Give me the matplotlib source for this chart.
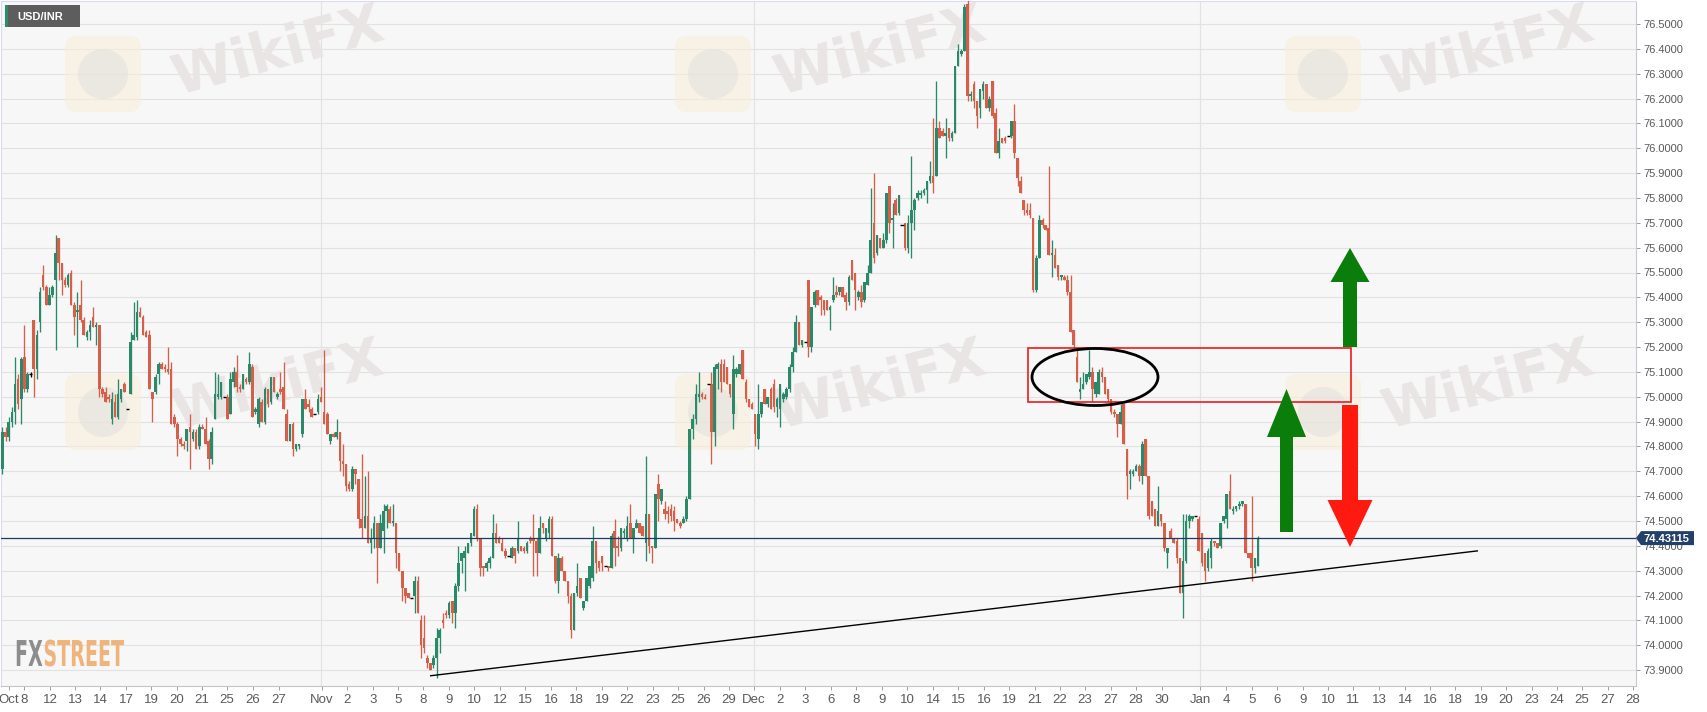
import numpy as np
import matplotlib
matplotlib.use("Agg")
import matplotlib.pyplot as plt
from matplotlib.patches import Rectangle, Ellipse, Polygon, FancyBboxPatch, Circle, PathPatch
from matplotlib.textpath import TextPath
from matplotlib.font_manager import FontProperties
import matplotlib.transforms as mtransforms

plt.rcParams['font.family'] = ['Liberation Sans', 'DejaVu Sans']

# ---------------- data ----------------
symbol = "USD/INR"
last_price = 74.43115

opens = [
    74.71, 74.86, 74.84, 74.90, 74.94, 75.07, 74.99, 75.16, 75.03, 75.09,
    75.31, 75.11, 75.30, 75.49, 75.44, 75.37, 75.41, 75.47, 75.64, 75.54,
    75.47, 75.45, 75.50, 75.37, 75.34, 75.37, 75.31, 75.24, 75.26, 75.32,
    75.28, 75.29, 75.03, 75.02, 75.00, 74.91, 74.98, 74.92, 74.99, 75.05,
    74.95, 75.01, 75.23, 75.24, 75.34, 75.32, 75.26, 75.25, 75.02, 75.02,
    75.09, 75.13, 75.12, 75.11, 75.11, 74.92, 74.89, 74.83, 74.81, 74.82,
    74.88, 74.83, 74.86, 74.80, 74.88, 74.87, 74.82, 74.75, 74.91, 75.00,
    75.00, 75.00, 75.00, 74.93, 75.06, 75.10, 75.04, 75.03, 75.07, 75.06,
    75.12, 74.94, 74.89, 74.98, 74.90, 75.03, 74.98, 75.08, 75.00, 75.03,
    75.04, 74.93, 74.82, 74.89, 74.79, 74.80, 74.85, 74.99, 74.97, 74.95,
    74.93, 74.94, 75.00, 74.94, 74.93, 74.82, 74.85, 74.84, 74.86, 74.74,
    74.73,
    74.65, 74.63, 74.71, 74.67, 74.51, 74.47, 74.52, 74.41, 74.43, 74.49,
    74.39, 74.46, 74.54, 74.55, 74.49,
    74.49, 74.37, 74.30, 74.23, 74.21, 74.19, 74.20, 74.26, 74.10, 74.03,
    73.95, 73.93, 73.92, 73.95, 74.03, 74.10, 74.13, 74.12, 74.18, 74.13,
    74.24, 74.34, 74.35, 74.37, 74.41, 74.44, 74.55, 74.43, 74.32, 74.31,
    74.33, 74.35, 74.45, 74.43, 74.41, 74.38, 74.36, 74.35, 74.39, 74.38,
    74.40, 74.39, 74.38, 74.43, 74.43, 74.42, 74.37, 74.49, 74.43, 74.45,
    74.51, 74.36, 74.26, 74.35, 74.30, 74.26, 74.20, 74.06, 74.21, 74.27,
    74.15, 74.18, 74.24, 74.27, 74.42, 74.34, 74.36, 74.32, 74.32, 74.31,
    74.46, 74.40, 74.39, 74.45, 74.43, 74.49, 74.43, 74.47, 74.49, 74.48,
    74.41, 74.53, 74.40, 74.39, 74.65, 74.58, 74.55, 74.54, 74.55, 74.54,
    74.51, 74.49, 74.49, 74.51, 74.59, 74.87, 74.91, 75.00, 75.01, 75.00,
    75.05, 75.05, 74.86, 75.11, 75.13, 75.13, 75.12, 75.05, 74.93, 75.09,
    75.09, 75.19, 75.06, 74.99, 74.97, 74.93, 74.83, 74.93, 75.03, 74.97,
    75.03, 75.05, 74.96, 74.95, 74.99, 75.00, 75.03,
    75.12, 75.18, 75.30, 75.21, 75.22, 75.47, 75.20, 75.37, 75.43, 75.40,
    75.39, 75.39, 75.35, 75.39, 75.42, 75.42, 75.44, 75.41, 75.38, 75.55,
    75.50, 75.40, 75.42, 75.39, 75.45, 75.50, 75.70, 75.58, 75.64, 75.60,
    75.63, 75.85, 75.71, 75.79, 75.74, 75.69, 75.70, 75.60, 75.70, 75.75,
    75.80, 75.81, 75.82, 75.83, 75.87, 75.89, 75.89, 76.08, 76.07, 76.05,
    76.08, 76.04, 76.06, 76.33, 76.38, 76.39, 76.58, 76.21, 76.26, 76.19,
    76.16, 76.23, 76.26, 76.16, 76.27, 76.14, 75.98, 76.04, 76.04, 76.05,
    76.05, 76.11, 75.96, 75.87, 75.79, 75.75, 75.75, 75.72, 75.43, 75.56,
    75.71, 75.69, 75.68, 75.57, 75.57, 75.53, 75.48, 75.48, 75.47, 75.42, 75.27,
    75.16, 75.02, 75.03, 75.06, 75.08, 75.10, 75.01, 75.01, 75.10, 75.08,
    75.03, 74.99, 74.94, 74.93, 74.89, 74.97, 74.79, 74.69, 74.69, 74.70,
    74.72, 74.68, 74.83, 74.68, 74.58, 74.55, 74.48, 74.53, 74.49, 74.37,
    74.46, 74.43, 74.42, 74.35, 74.21, 74.34, 74.50, 74.51, 74.52, 74.51,
    74.45, 74.37, 74.31, 74.35, 74.42, 74.41, 74.40, 74.50, 74.51, 74.62,
    74.54, 74.55, 74.56, 74.57, 74.57, 74.37, 74.37, 74.31, 74.32,
]

highs = [
    74.88, 74.88, 74.92, 74.96, 75.16, 75.09, 75.16, 75.29, 75.10, 75.10,
    75.31, 75.27, 75.44, 75.53, 75.45, 75.44, 75.45, 75.65, 75.64, 75.54,
    75.48, 75.50, 75.51, 75.38, 75.42, 75.47, 75.32, 75.27, 75.31, 75.36,
    75.30, 75.29, 75.04, 75.04, 75.01, 75.02, 75.01, 75.07, 75.03, 75.06,
    74.95, 75.26, 75.38, 75.39, 75.36, 75.33, 75.27, 75.27, 75.02, 75.09,
    75.14, 75.14, 75.13, 75.20, 75.14, 74.93, 74.90, 74.84, 74.82, 74.87,
    74.93, 74.87, 74.87, 74.89, 74.89, 74.92, 74.83, 74.88, 75.10, 75.09,
    75.06, 75.00, 75.01, 75.10, 75.12, 75.17, 75.05, 75.09, 75.08, 75.18,
    75.13, 74.96, 75.00, 74.99, 75.04, 75.03, 75.08, 75.08, 75.02, 75.10,
    75.14, 74.95, 74.89, 74.90, 74.81, 74.81, 74.99, 75.03, 74.99, 74.96,
    74.93, 75.01, 75.04, 75.19, 74.94, 74.85, 74.86, 74.91, 74.86, 74.81,
    74.73,
    74.66, 74.72, 74.71, 74.67, 74.77, 74.68, 74.70, 74.47, 74.52, 74.49,
    74.53, 74.57, 74.57, 74.56, 74.57,
    74.49, 74.37, 74.30, 74.23, 74.21, 74.19, 74.28, 74.28, 74.12, 74.12,
    73.96, 73.93, 73.96, 74.07, 74.07, 74.13, 74.14, 74.18, 74.18, 74.25,
    74.40, 74.37, 74.40, 74.41, 74.45, 74.56, 74.57, 74.43, 74.32, 74.34,
    74.36, 74.53, 74.49, 74.44, 74.43, 74.39, 74.36, 74.40, 74.39, 74.50,
    74.40, 74.40, 74.42, 74.44, 74.53, 74.43, 74.52, 74.49, 74.47, 74.52,
    74.52, 74.36, 74.37, 74.36, 74.30, 74.26, 74.21, 74.21, 74.33, 74.27,
    74.18, 74.27, 74.32, 74.48, 74.42, 74.34, 74.36, 74.32, 74.32, 74.45,
    74.51, 74.44, 74.47, 74.47, 74.52, 74.57, 74.47, 74.51, 74.49, 74.48,
    74.76, 74.53, 74.40, 74.61, 74.69, 74.63, 74.58, 74.56, 74.57, 74.56,
    74.51, 74.50, 74.52, 74.60, 74.87, 74.93, 75.05, 75.10, 75.02, 75.01,
    75.05, 75.10, 75.13, 75.14, 75.15, 75.15, 75.12, 75.05, 75.17, 75.12,
    75.13, 75.19, 75.07, 74.99, 74.98, 74.93, 75.05, 74.98, 75.03, 75.00,
    75.04, 75.07, 75.00, 75.05, 75.02, 75.04, 75.13,
    75.20, 75.33, 75.30, 75.23, 75.22, 75.47, 75.36, 75.43, 75.43, 75.41,
    75.39, 75.39, 75.37, 75.48, 75.45, 75.44, 75.44, 75.42, 75.49, 75.55,
    75.50, 75.43, 75.45, 75.46, 75.53, 75.84, 75.90, 75.65, 75.64, 75.66,
    75.82, 75.85, 75.78, 75.80, 75.81, 75.69, 75.70, 75.73, 75.97, 75.80,
    75.83, 75.83, 75.84, 75.87, 75.95, 76.12, 76.27, 76.11, 76.08, 76.12,
    76.08, 76.07, 76.33, 76.42, 76.40, 76.58, 76.60, 76.23, 76.27, 76.19,
    76.24, 76.27, 76.26, 76.21, 76.27, 76.16, 76.08, 76.04, 76.05, 76.05,
    76.11, 76.18, 75.96, 75.89, 75.79, 75.78, 75.78, 75.72, 75.57, 75.73,
    75.72, 75.69, 75.93, 75.63, 75.60, 75.53, 75.49, 75.49, 75.49, 75.49, 75.27,
    75.19, 75.08, 75.10, 75.09, 75.19, 75.12, 75.06, 75.11, 75.12, 75.08,
    75.03, 74.99, 74.95, 74.93, 74.97, 74.97, 74.79, 74.71, 74.71, 74.73,
    74.73, 74.82, 74.83, 74.68, 74.58, 74.55, 74.64, 74.53, 74.49, 74.39,
    74.47, 74.43, 74.43, 74.35, 74.53, 74.53, 74.53, 74.52, 74.52, 74.52,
    74.45, 74.37, 74.39, 74.43, 74.42, 74.41, 74.49, 74.52, 74.61, 74.69,
    74.56, 74.56, 74.58, 74.58, 74.57, 74.37, 74.60, 74.35, 74.44,
]

lows = [
    74.69, 74.82, 74.82, 74.88, 74.89, 74.95, 74.89, 75.02, 75.02, 75.08,
    75.00, 75.07, 75.26, 75.43, 75.37, 75.37, 75.40, 75.19, 75.47, 75.41,
    75.44, 75.44, 75.37, 75.25, 75.20, 75.30, 75.25, 75.23, 75.23, 75.28,
    75.21, 75.00, 75.00, 74.98, 74.98, 74.89, 74.92, 74.91, 74.98, 75.02,
    74.95, 75.01, 75.23, 75.23, 75.32, 75.25, 75.24, 75.03, 74.90, 75.01,
    75.05, 75.11, 75.10, 75.09, 74.89, 74.88, 74.76, 74.80, 74.79, 74.78,
    74.71, 74.82, 74.79, 74.79, 74.87, 74.81, 74.71, 74.73, 74.91, 74.99,
    74.99, 75.00, 74.91, 74.93, 75.04, 75.02, 75.02, 75.03, 75.05, 75.05,
    74.92, 74.93, 74.88, 74.90, 74.89, 74.96, 74.97, 75.02, 74.99, 75.01,
    74.95, 74.82, 74.82, 74.76, 74.78, 74.79, 74.84, 74.95, 74.94, 74.92,
    74.93, 74.93, 74.98, 74.89, 74.85, 74.81, 74.84, 74.83, 74.70, 74.68,
    74.62,
    74.62, 74.62, 74.65, 74.47, 74.43, 74.47, 74.41, 74.37, 74.39, 74.25,
    74.39, 74.37, 74.47, 74.49, 74.48,
    74.31, 74.30, 74.18, 74.17, 74.19, 74.19, 74.13, 74.13, 73.95, 73.97,
    73.91, 73.90, 73.91, 73.87, 73.97, 74.07, 74.11, 74.11, 74.09, 74.07,
    74.22, 74.29, 74.22, 74.37, 74.40, 74.44, 74.42, 74.28, 74.28, 74.30,
    74.31, 74.35, 74.41, 74.41, 74.38, 74.35, 74.36, 74.35, 74.33, 74.37,
    74.38, 74.37, 74.37, 74.41, 74.28, 74.28, 74.37, 74.45, 74.42, 74.43,
    74.36, 74.25, 74.21, 74.30, 74.26, 74.17, 74.03, 74.06, 74.20, 74.19,
    74.14, 74.18, 74.23, 74.26, 74.29, 74.30, 74.30, 74.32, 74.30, 74.31,
    74.32, 74.36, 74.38, 74.43, 74.42, 74.43, 74.37, 74.47, 74.45, 74.44,
    74.34, 74.37, 74.33, 74.39, 74.50, 74.57, 74.51, 74.49, 74.50, 74.46,
    74.49, 74.47, 74.49, 74.50, 74.59, 74.83, 74.89, 74.98, 74.99, 74.99,
    75.05, 74.73, 74.80, 75.03, 75.02, 75.06, 75.05, 75.00, 74.87, 75.08,
    75.09, 75.07, 74.98, 74.96, 74.95, 74.80, 74.79, 74.92, 74.97, 74.96,
    74.95, 74.94, 74.92, 74.88, 74.98, 74.99, 75.02,
    75.10, 75.18, 75.21, 75.20, 75.22, 75.16, 75.18, 75.36, 75.37, 75.33,
    75.33, 75.35, 75.27, 75.38, 75.40, 75.41, 75.40, 75.35, 75.37, 75.47,
    75.35, 75.39, 75.36, 75.38, 75.45, 75.50, 75.54, 75.57, 75.60, 75.60,
    75.62, 75.66, 75.60, 75.73, 75.73, 75.69, 75.59, 75.58, 75.56, 75.67,
    75.79, 75.80, 75.81, 75.78, 75.86, 75.82, 75.89, 76.04, 76.05, 75.96,
    76.03, 76.03, 76.06, 76.33, 76.37, 76.39, 76.19, 76.19, 76.16, 76.08,
    76.12, 76.20, 76.16, 76.15, 76.12, 75.98, 75.96, 76.02, 76.02, 76.05,
    76.04, 75.96, 75.85, 75.82, 75.73, 75.73, 75.72, 75.42, 75.42, 75.56,
    75.68, 75.67, 75.57, 75.48, 75.52, 75.47, 75.47, 75.47, 75.41, 75.26, 75.19,
    75.06, 74.99, 75.03, 75.05, 75.07, 74.98, 75.00, 75.01, 75.06, 75.01,
    74.98, 74.93, 74.92, 74.84, 74.89, 74.81, 74.59, 74.63, 74.68, 74.70,
    74.66, 74.65, 74.68, 74.51, 74.52, 74.48, 74.48, 74.48, 74.38, 74.31,
    74.43, 74.41, 74.33, 74.21, 74.11, 74.33, 74.47, 74.50, 74.52, 74.38,
    74.32, 74.26, 74.30, 74.31, 74.40, 74.39, 74.39, 74.49, 74.47, 74.55,
    74.53, 74.54, 74.55, 74.56, 74.37, 74.35, 74.26, 74.29, 74.32,
]

closes = [
    74.86, 74.84, 74.90, 74.94, 75.05, 74.97, 75.15, 75.03, 75.09, 75.09,
    75.11, 75.25, 75.42, 75.44, 75.37, 75.41, 75.44, 75.58, 75.54, 75.47,
    75.45, 75.49, 75.37, 75.32, 75.35, 75.31, 75.25, 75.26, 75.29, 75.28,
    75.29, 75.03, 75.01, 74.98, 74.99, 74.99, 74.92, 75.01, 75.03, 75.02,
    74.95, 75.22, 75.25, 75.34, 75.32, 75.25, 75.24, 75.03, 74.99, 75.08,
    75.13, 75.11, 75.11, 75.10, 74.89, 74.89, 74.83, 74.81, 74.80, 74.87,
    74.86, 74.86, 74.79, 74.88, 74.87, 74.81, 74.75, 74.86, 75.01, 75.01,
    75.06, 75.00, 74.91, 75.07, 75.10, 75.04, 75.03, 75.09, 75.06, 75.13,
    74.92, 74.95, 74.99, 74.90, 75.03, 74.97, 75.08, 75.02, 75.01, 75.02,
    74.95, 74.82, 74.89, 74.79, 74.81, 74.81, 74.99, 74.95, 74.96, 74.92,
    74.93, 74.99, 74.98, 74.89, 74.85, 74.85, 74.84, 74.86, 74.74, 74.73,
    74.64,
    74.63, 74.71, 74.69, 74.51, 74.47, 74.52, 74.41, 74.43, 74.49, 74.39,
    74.49, 74.54, 74.56, 74.49, 74.50,
    74.37, 74.30, 74.23, 74.20, 74.19, 74.19, 74.26, 74.13, 74.00, 73.99,
    73.93, 73.90, 73.95, 74.03, 74.06, 74.09, 74.12, 74.17, 74.13, 74.24,
    74.33, 74.37, 74.38, 74.41, 74.45, 74.55, 74.43, 74.31, 74.31, 74.33,
    74.35, 74.45, 74.41, 74.41, 74.38, 74.36, 74.36, 74.39, 74.36, 74.43,
    74.38, 74.38, 74.41, 74.42, 74.42, 74.37, 74.47, 74.47, 74.47, 74.51,
    74.36, 74.26, 74.35, 74.30, 74.26, 74.20, 74.06, 74.21, 74.24, 74.19,
    74.18, 74.27, 74.32, 74.42, 74.33, 74.31, 74.33, 74.32, 74.31, 74.44,
    74.39, 74.39, 74.47, 74.46, 74.48, 74.43, 74.47, 74.49, 74.45, 74.44,
    74.53, 74.40, 74.39, 74.61, 74.59, 74.63, 74.53, 74.53, 74.52, 74.50,
    74.49, 74.48, 74.51, 74.59, 74.87, 74.91, 75.01, 75.01, 75.00, 74.99,
    75.05, 74.86, 75.12, 75.13, 75.06, 75.06, 75.05, 75.01, 75.11, 75.11,
    75.13, 75.07, 74.99, 74.96, 74.95, 74.85, 74.93, 74.98, 74.97, 75.00,
    74.95, 74.96, 74.99, 75.05, 75.01, 75.03, 75.12,
    75.18, 75.30, 75.21, 75.23, 75.22, 75.20, 75.36, 75.42, 75.37, 75.39,
    75.35, 75.35, 75.36, 75.41, 75.41, 75.44, 75.40, 75.38, 75.48, 75.47,
    75.43, 75.42, 75.38, 75.46, 75.50, 75.63, 75.56, 75.65, 75.60, 75.63,
    75.82, 75.70, 75.72, 75.73, 75.81, 75.69, 75.60, 75.70, 75.75, 75.79,
    75.82, 75.82, 75.83, 75.87, 75.89, 75.86, 76.08, 76.04, 76.05, 76.06,
    76.04, 76.06, 76.33, 76.39, 76.39, 76.57, 76.21, 76.22, 76.19, 76.13,
    76.24, 76.26, 76.16, 76.20, 76.13, 75.98, 76.03, 76.02, 76.03, 76.05,
    76.11, 75.98, 75.88, 75.82, 75.75, 75.74, 75.73, 75.43, 75.56, 75.71,
    75.69, 75.67, 75.57, 75.58, 75.52, 75.48, 75.49, 75.47, 75.42, 75.26, 75.21,
    75.06, 75.03, 75.05, 75.09, 75.10, 75.03, 75.06, 75.10, 75.08, 75.01,
    74.99, 74.94, 74.93, 74.89, 74.94, 74.81, 74.68, 74.70, 74.70, 74.72,
    74.68, 74.81, 74.68, 74.52, 74.52, 74.48, 74.54, 74.50, 74.39, 74.39,
    74.43, 74.41, 74.35, 74.21, 74.34, 74.50, 74.52, 74.52, 74.52, 74.38,
    74.33, 74.30, 74.38, 74.42, 74.41, 74.39, 74.49, 74.52, 74.61, 74.55,
    74.55, 74.56, 74.57, 74.58, 74.37, 74.35, 74.31, 74.35, 74.43,
]

tick_labels = ["Oct", "8", "12", "13", "14", "17", "19", "20", "21", "25", "26", "27",
               "Nov", "2", "3", "5", "8", "9", "10", "12", "15", "16", "18", "19", "22",
               "23", "25", "26", "29", "Dec", "2", "3", "6", "8", "9", "10", "14", "15",
               "16", "19", "21", "22", "23", "27", "28", "30", "Jan", "4", "5", "6", "9",
               "10", "11", "13", "14", "16", "18", "19", "20", "23", "24", "25", "27", "28"]

# ---------------- layout (pixel-based) ----------------
W, H = 1707, 712
L, R, T, B = 1, 1636, 1, 686
tick_px = [9, 24, 50, 75, 100, 126, 151, 177, 202, 227, 253, 279,
           322, 347, 373, 398, 423, 449, 474, 500, 525, 551, 576, 602, 627,
           653, 678, 704, 729, 754, 780, 805, 831, 856, 882, 907, 933, 958,
           984, 1009, 1035, 1060, 1085, 1111, 1136, 1162, 1200, 1226, 1252, 1277, 1303,
           1328, 1353, 1379, 1405, 1430, 1455, 1481, 1506, 1532, 1557, 1582, 1608, 1633]
month_px = [321, 754, 1200]
first_px, last_px = 2.5, 1258.0

def price_at(ypix):
    return 76.5 - (ypix - 24) / 248.5

GREEN = '#2a8969'
RED = '#d65f4a'

fig = plt.figure(figsize=(W / 100, H / 100), dpi=100, facecolor='white')
ax = fig.add_axes([L / W, 1 - B / H, (R - L) / W, (B - T) / H])
ax.set_facecolor('#f7f7f7')
ax.set_xlim(L, R)
ax.set_ylim(price_at(B), price_at(T))

ov = fig.add_axes([0, 0, 1, 1], zorder=5)
ov.set_xlim(0, W)
ov.set_ylim(H, 0)
ov.axis('off')
ov.patch.set_alpha(0)

# grid
yt = np.round(np.arange(73.9, 76.55, 0.1), 1)
ax.set_yticks(yt)
ax.set_yticklabels([f"{v:.4f}" for v in yt])
ax.grid(axis='y', color='#e2e2e2', lw=0.8, zorder=0.8)
for mx in month_px:
    ax.axvline(mx, color='#e2e2e2', lw=0.8, zorder=0.8)
ax.set_axisbelow(True)

ax.yaxis.tick_right()
ax.tick_params(axis='y', direction='out', length=3, width=0.7, color='#9a9a9a',
               pad=2, labelsize=8, labelcolor='#5a5a5a')
ax.set_xticks(tick_px)
ax.set_xticklabels(tick_labels)
for t in ax.get_xticklabels():
    t.set_fontfamily(['Liberation Sans Narrow', 'Liberation Sans', 'DejaVu Sans'])
ax.tick_params(axis='x', direction='out', length=3, width=0.7, color='#a0a0a0',
               pad=3, labelsize=9.5, labelcolor='#5a5a5a')
for side, colr in [('left', '#dadaf0'), ('top', '#dadaf0'), ('right', '#c6cad6'), ('bottom', '#c4c4c4')]:
    ax.spines[side].set_color(colr)
    ax.spines[side].set_linewidth(0.8)

# watermarks (faint)
for wx in [103, 713, 1323]:
    for wy in [74, 412]:
        ax.add_patch(FancyBboxPatch((wx - 38, wy - 38), 76, 76,
                                    boxstyle='round,pad=0,rounding_size=12',
                                    fc='#f7eedb', ec='none', alpha=0.6,
                                    transform=ov.transData, zorder=1))
        ax.add_patch(Circle((wx, wy), 25, fc='#e4e1de', ec='none', alpha=0.6,
                            transform=ov.transData, zorder=1))
for wx in [278, 880, 1488]:
    for wy in [52, 386]:
        ax.text(wx, wy, "WikiFX", transform=ov.transData, rotation=15,
                ha='center', va='center', fontsize=40, fontweight='bold',
                family='DejaVu Sans', color='#e9e5e5', zorder=1)

# candles
o = np.array(opens); h = np.array(highs); lo = np.array(lows); c = np.array(closes)
n = len(c)
step = (last_px - first_px) / (n - 1)
xs = first_px + step * np.arange(n)
doji = np.isclose(o, c)
cols = np.where(c > o, GREEN, RED)
cols = np.where(doji, 'black', cols)
ax.vlines(xs, lo, h, colors=cols, lw=0.95, zorder=3)
nd = ~doji
bot = np.minimum(o, c)
hgt = np.maximum(np.abs(c - o), 0.005)
ax.bar(xs[nd], hgt[nd], bottom=bot[nd], width=step * 0.82, color=cols[nd],
       linewidth=0, zorder=3)
ax.hlines(c[doji], xs[doji] - step * 0.5, xs[doji] + step * 0.5, colors='black',
          lw=1.0, zorder=3)

# last price line
ax.axhline(last_price, color='#1f3b63', lw=0.9, zorder=4)

# annotations: trendline, zone, ellipse, arrows
trend_x = [430, 1478]
trend_y = [73.877, 74.38]
ax.plot(trend_x, trend_y, color='black', lw=1.0, zorder=4, solid_capstyle='butt')
ax.add_patch(Rectangle((1028, price_at(402)), 1351 - 1028, price_at(348) - price_at(402),
                       fill=False, ec='#ee1c1c', lw=1.2, zorder=5))
ax.add_patch(Ellipse((1095, price_at(377)), 126, 57 / 248.5, fill=False,
                     ec='black', lw=2.0, zorder=5))

def v_arrow(xc, y_tail, y_tip, sw, hw, hl, color):
    d = 1 if y_tip > y_tail else -1
    base = y_tip - d * hl
    pts = [(xc - sw / 2, y_tail), (xc + sw / 2, y_tail), (xc + sw / 2, base),
           (xc + hw / 2, base), (xc, y_tip), (xc - hw / 2, base), (xc - sw / 2, base)]
    ax.add_patch(Polygon(pts, closed=True, fc=color, ec='none', zorder=6))

v_arrow(1286.5, price_at(532), price_at(389), 13, 39, 48 / 248.5, '#0a7d0a')
v_arrow(1350, price_at(347), price_at(248), 14, 39, 34 / 248.5, '#0a7d0a')
v_arrow(1350, price_at(405), price_at(547), 16, 45, 47 / 248.5, '#ff1a10')

# ---------------- overlay decorations ----------------
# symbol tag
ov.add_patch(Rectangle((5, 5), 75, 22, fc='#5d5d5d', ec='none'))
ov.add_patch(Rectangle((5, 5), 3, 22, fc='#2e8b6e', ec='none'))
ov.text(17, 16.5, symbol, color='white', fontsize=8, fontweight='bold',
        va='center', ha='left')

# price tag
y_disp = ax.transData.transform((0, last_price))[1]
yp = H - y_disp
ov.add_patch(Polygon([(1636, yp), (1641, yp - 7), (1694, yp - 7), (1694, yp + 7), (1641, yp + 7)],
                     closed=True, fc='#22406a', ec='none'))
ov.text(1644, yp + 0.5, f"{last_price:.5f}", color='white', fontsize=8, fontweight='bold',
        va='center', ha='left')

# FXSTREET logo
fp = FontProperties(family='DejaVu Sans', weight='bold')
tp1 = TextPath((0, 0), "FX", size=1, prop=fp)
tp2 = TextPath((0, 0), "STREET", size=1, prop=fp)
w1 = tp1.get_extents().x1
w2 = tp2.get_extents().x1
sy = 26 / 0.73
sx = 109 / (w1 + w2 + 0.05)
base_y = 666
for tp, x0, colr in [(tp1, 15, '#8d8d8d'), (tp2, 15 + (w1 + 0.05) * sx, '#efb47c')]:
    tr = mtransforms.Affine2D().scale(sx, -sy).translate(x0, base_y) + ov.transData
    ov.add_patch(PathPatch(tp, fc=colr, ec='none', transform=tr))

fig.savefig("out.png", dpi=100, facecolor='white')
